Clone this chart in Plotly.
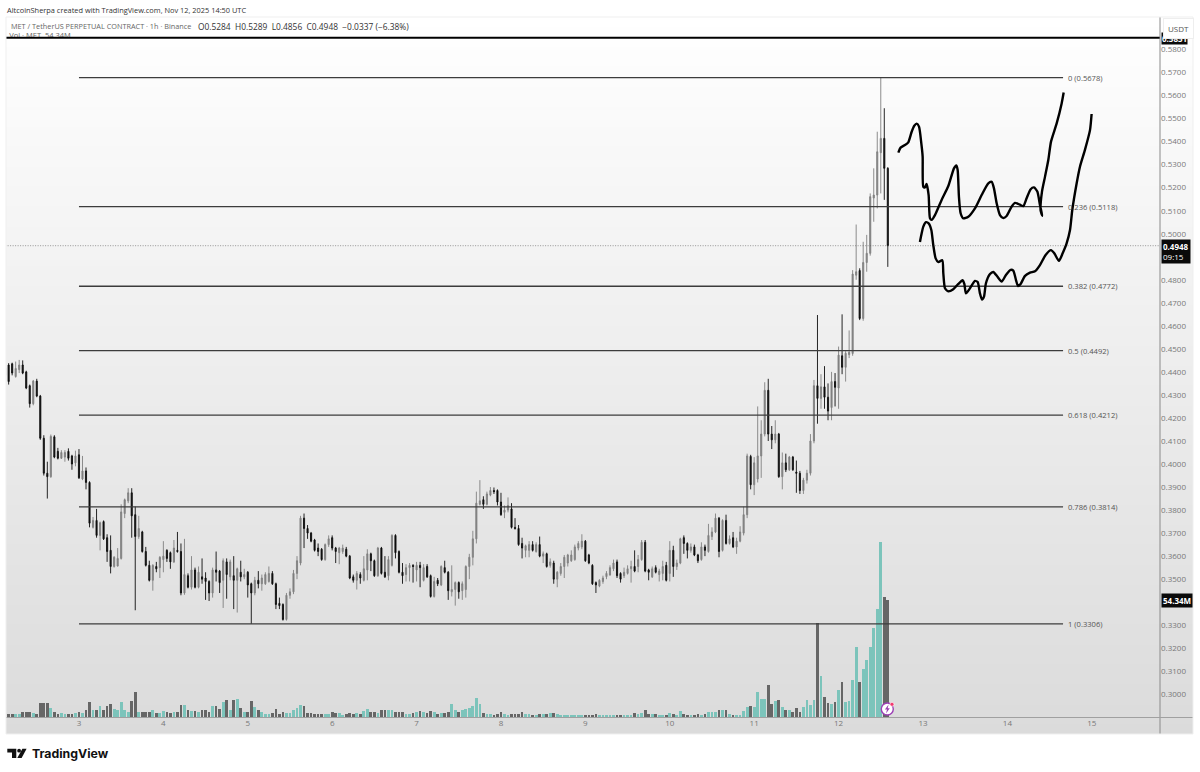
"""MET/USDT 1h chart with fib levels and two hand-drawn paths, TradingView style."""
import numpy as np
import pandas as pd
import plotly.graph_objects as go

W, H = 1200, 772

# ----- candles, 1h, first one at Nov 2 03:00 -----
opens = [
    .4385,.4430,.4435,.4380,.4410,.4430,.4400,.4340,.4262,.4360,
    .4295,.4112,.3960,.3945,.4118,.4055,.4025,.4030,.4055,.4035,
    .4005,.4040,.3935,.3970,.3920,.3725,.3755,.3690,.3750,.3680,
    .3625,.3555,.3557,.3590,.3785,.3840,.3875,.3780,.3685,.3705,
    .3620,.3560,.3495,.3555,.3550,.3585,.3625,.3615,.3575,.3625,
    .3620,.3440,.3515,.3465,.3540,.3465,.3510,.3505,.3490,.3440,
    .3540,.3535,.3495,.3575,.3510,.3515,.3495,.3530,.3510,.3530,
    .3480,.3440,.3495,.3480,.3480,.3490,.3525,.3480,.3395,.3390,
    .3325,.3430,.3445,.3525,.3570,.3765,.3720,.3700,.3670,.3635,
    .3630,.3585,.3650,.3680,.3635,.3615,.3620,.3630,.3600,.3510,
    .3495,.3520,.3495,.3540,.3610,.3580,.3515,.3635,.3530,.3515,
    .3560,.3690,.3620,.3530,.3520,.3550,.3560,.3540,.3560,.3495,
    .3555,.3515,.3425,.3495,.3475,.3550,.3530,.3445,.3455,.3485,
    .3450,.3455,.3555,.3595,.3675,.3825,.3845,.3825,.3865,.3885,
    .3885,.3835,.3790,.3800,.3805,.3725,.3720,.3655,.3625,.3625,
    .3650,.3620,.3650,.3600,.3610,.3560,.3570,.3500,.3525,.3555,
    .3570,.3580,.3585,.3635,.3640,.3665,.3605,.3560,.3485,.3470,
    .3490,.3511,.3518,.3545,.3575,.3525,.3515,.3525,.3545,.3555,
    .3555,.3585,.3660,.3540,.3510,.3550,.3520,.3525,.3560,.3525,
    .3625,.3555,.3570,.3680,.3655,.3625,.3640,.3605,.3585,.3640,
    .3620,.3685,.3705,.3765,.3625,.3755,.3655,.3680,.3640,.3665,
    .3700,.3780,.4033,.3910,.3935,.4035,.4130,.4320,.4130,.4105,
    .4130,.3945,.4005,.3975,.4030,.3965,.3960,.3885,.3930,.3960,
    .4100,.4340,.4285,.4335,.4290,.4245,.4358,.4330,.4470,.4420,
    .4475,.4480,.4820,.4840,.4632,.4875,.4915,.5155,.5168,.5352,.5414,.5284,
]
highs = [
    .4425,.4438,.4440,.4445,.4452,.4450,.4405,.4345,.4365,.4370,
    .4300,.4125,.4010,.4128,.4125,.4070,.4060,.4060,.4068,.4040,
    .4058,.4065,.4035,.3985,.3925,.3770,.3805,.3750,.3755,.3695,
    .3690,.3600,.3635,.3825,.3850,.3895,.3895,.3815,.3775,.3710,
    .3640,.3580,.3565,.3575,.3600,.3665,.3630,.3620,.3670,.3705,
    .3655,.3675,.3525,.3600,.3550,.3555,.3590,.3530,.3495,.3550,
    .3620,.3540,.3590,.3590,.3585,.3600,.3550,.3580,.3545,.3535,
    .3485,.3510,.3535,.3520,.3530,.3555,.3535,.3485,.3420,.3395,
    .3440,.3460,.3540,.3600,.3775,.3785,.3735,.3705,.3675,.3655,
    .3635,.3655,.3690,.3690,.3640,.3640,.3650,.3640,.3605,.3520,
    .3535,.3530,.3600,.3630,.3615,.3585,.3640,.3640,.3600,.3600,
    .3695,.3695,.3625,.3570,.3565,.3570,.3565,.3575,.3575,.3565,
    .3565,.3520,.3510,.3505,.3560,.3580,.3535,.3560,.3490,.3490,
    .3490,.3560,.3610,.3710,.3880,.3930,.3860,.3880,.3900,.3898,
    .3890,.3875,.3820,.3855,.3830,.3765,.3735,.3680,.3650,.3665,
    .3665,.3660,.3685,.3620,.3615,.3590,.3580,.3535,.3570,.3605,
    .3610,.3625,.3650,.3665,.3695,.3670,.3610,.3565,.3490,.3500,
    .3515,.3535,.3560,.3585,.3585,.3530,.3550,.3560,.3580,.3625,
    .3605,.3670,.3670,.3545,.3555,.3560,.3545,.3580,.3575,.3665,
    .3645,.3585,.3680,.3690,.3660,.3655,.3650,.3610,.3660,.3650,
    .3740,.3725,.3785,.3770,.3760,.3780,.3690,.3705,.3680,.3730,
    .3815,.4045,.4040,.4030,.4250,.4190,.4355,.4370,.4165,.4190,
    .4135,.4050,.4045,.4035,.4035,.4015,.3970,.3940,.3975,.4130,
    .4365,.4647,.4390,.4425,.4350,.4400,.4395,.4510,.4650,.4490,
    .4580,.4842,.5040,.4850,.4965,.4995,.5175,.5284,.5443,.5678,.5545,.5289,
]
lows = [
    .4358,.4345,.4385,.4375,.4395,.4390,.4325,.4245,.4255,.4290,
    .4105,.3950,.3850,.3940,.4025,.4020,.4022,.4010,.4015,.3975,
    .3990,.3935,.3930,.3890,.3725,.3720,.3680,.3625,.3670,.3575,
    .3525,.3550,.3555,.3585,.3765,.3830,.3680,.3365,.3675,.3615,
    .3555,.3490,.3450,.3530,.3505,.3530,.3575,.3545,.3570,.3615,
    .3430,.3432,.3460,.3455,.3460,.3460,.3480,.3410,.3405,.3420,
    .3490,.3440,.3375,.3415,.3495,.3370,.3355,.3490,.3500,.3420,
    .3306,.3430,.3460,.3450,.3475,.3485,.3475,.3370,.3370,.3320,
    .3320,.3415,.3435,.3500,.3560,.3635,.3675,.3660,.3620,.3600,
    .3580,.3580,.3640,.3625,.3570,.3565,.3610,.3595,.3500,.3485,
    .3455,.3480,.3490,.3495,.3535,.3510,.3510,.3520,.3505,.3495,
    .3555,.3590,.3525,.3480,.3490,.3490,.3485,.3490,.3465,.3490,
    .3505,.3420,.3420,.3470,.3470,.3525,.3410,.3425,.3385,.3415,
    .3410,.3420,.3500,.3560,.3655,.3820,.3805,.3820,.3860,.3870,
    .3820,.3775,.3765,.3790,.3720,.3715,.3645,.3590,.3595,.3595,
    .3620,.3615,.3595,.3570,.3550,.3550,.3480,.3465,.3515,.3505,
    .3555,.3575,.3580,.3625,.3630,.3575,.3565,.3475,.3440,.3465,
    .3480,.3500,.3515,.3535,.3505,.3485,.3505,.3520,.3485,.3530,
    .3530,.3580,.3530,.3495,.3505,.3525,.3490,.3495,.3490,.3490,
    .3510,.3540,.3565,.3610,.3590,.3615,.3600,.3570,.3580,.3600,
    .3615,.3670,.3700,.3595,.3620,.3650,.3650,.3635,.3610,.3660,
    .3690,.3765,.3890,.3865,.3920,.3940,.4120,.4100,.4065,.4090,
    .3940,.3890,.3965,.3970,.3970,.3875,.3870,.3870,.3915,.3950,
    .4090,.4175,.4240,.4240,.4190,.4190,.4250,.4240,.4390,.4358,
    .4460,.4470,.4800,.4625,.4622,.4835,.4905,.5052,.5110,.5175,.5147,.4856,
]
closes = [
    .4418,.4358,.4395,.4415,.4430,.4395,.4330,.4262,.4360,.4295,
    .4112,.3960,.3945,.4120,.4030,.4025,.4050,.4050,.4025,.4000,
    .4035,.3940,.3970,.3920,.3743,.3755,.3690,.3745,.3675,.3620,
    .3555,.3595,.3590,.3792,.3845,.3875,.3775,.3685,.3720,.3620,
    .3560,.3495,.3560,.3545,.3595,.3600,.3590,.3575,.3635,.3620,
    .3440,.3520,.3465,.3540,.3465,.3530,.3500,.3490,.3440,.3540,
    .3530,.3485,.3580,.3520,.3575,.3495,.3545,.3510,.3520,.3475,
    .3440,.3495,.3480,.3505,.3520,.3525,.3480,.3390,.3385,.3325,
    .3430,.3445,.3525,.3580,.3765,.3720,.3700,.3665,.3625,.3620,
    .3585,.3650,.3675,.3635,.3620,.3635,.3635,.3600,.3505,.3495,
    .3525,.3505,.3545,.3610,.3580,.3515,.3635,.3525,.3510,.3585,
    .3690,.3615,.3530,.3515,.3550,.3560,.3555,.3560,.3550,.3550,
    .3510,.3425,.3490,.3480,.3555,.3530,.3450,.3455,.3485,.3445,
    .3480,.3555,.3595,.3675,.3830,.3840,.3825,.3870,.3885,.3880,
    .3835,.3780,.3800,.3820,.3725,.3720,.3650,.3635,.3645,.3650,
    .3625,.3650,.3600,.3610,.3555,.3575,.3500,.3530,.3555,.3595,
    .3605,.3605,.3640,.3655,.3665,.3580,.3570,.3480,.3475,.3495,
    .3505,.3525,.3550,.3570,.3515,.3500,.3530,.3545,.3555,.3535,
    .3585,.3660,.3535,.3530,.3545,.3530,.3535,.3555,.3495,.3625,
    .3555,.3570,.3675,.3655,.3625,.3640,.3605,.3580,.3640,.3625,
    .3690,.3705,.3765,.3620,.3755,.3655,.3675,.3640,.3665,.3705,
    .3780,.4035,.3910,.4005,.4035,.4130,.4320,.4130,.4105,.4130,
    .3945,.4005,.3975,.4030,.3975,.3960,.3885,.3930,.3960,.4100,
    .4340,.4285,.4335,.4290,.4230,.4358,.4333,.4473,.4420,.4481,
    .4485,.4825,.4835,.4632,.4875,.4915,.5161,.5168,.5356,.5414,.5284,.4948,
]
# volume in millions
volumes = [
    1.2,1.2,1.5,1.2,1.5,2.2,2.2,2.5,1.9,1.2,
    6.7,6.7,6.7,4.3,2.2,1.5,1.9,1.2,1.2,1.2,
    1.9,2.5,1.9,3.1,7.0,3.1,3.4,5.0,3.4,5.0,
    5.9,3.7,3.1,7.1,3.1,2.5,7.4,11.8,2.5,2.2,
    2.2,2.2,3.4,1.9,1.9,2.8,2.2,1.9,2.5,2.5,
    5.6,5.6,3.1,2.8,2.8,2.5,3.1,3.4,2.5,5.3,
    5.0,3.7,7.1,8.0,3.1,8.0,8.4,4.0,2.2,2.5,
    7.4,4.6,3.1,2.2,1.5,1.5,1.9,3.7,1.5,2.2,
    1.9,1.9,3.1,4.3,5.6,5.0,1.9,1.9,1.5,1.5,
    1.5,1.2,1.5,2.2,1.9,1.9,0.9,1.2,1.9,1.2,
    1.9,1.2,2.8,3.7,2.5,2.2,1.9,3.4,3.1,3.1,
    3.1,2.5,2.5,2.2,1.2,1.2,1.9,2.2,2.8,2.2,
    1.9,2.8,2.5,1.2,1.9,1.9,2.5,6.2,3.4,2.2,
    3.1,3.7,4.3,5.0,8.7,6.2,1.9,1.5,1.2,0.9,
    1.2,2.5,1.5,0.8,1.2,1.2,1.5,2.5,1.2,1.5,
    0.8,0.8,1.5,1.5,1.5,1.9,1.9,1.2,0.9,0.9,
    0.8,0.8,0.8,0.8,0.8,1.1,1.1,1.1,1.2,0.5,
    0.5,0.5,0.5,0.5,0.6,0.8,0.8,0.8,0.8,1.9,
    1.2,1.9,3.1,1.2,1.5,1.2,0.9,0.6,0.9,1.9,
    1.2,0.9,2.8,1.5,1.1,0.9,0.9,1.2,0.9,1.2,
    2.5,2.2,2.2,3.4,3.1,3.1,1.2,0.9,0.8,0.9,
    2.8,4.6,5.3,4.6,11.4,8.5,8.5,14.9,5.9,7.4,
    7.7,4.6,3.1,3.1,2.5,4.3,2.5,4.6,7.7,5.6,
    8.0,43.8,19.2,9.3,6.5,6.2,7.1,12.4,16.4,7.1,
    7.4,17.0,32.5,16.4,22.4,26.6,32.5,41.5,50.1,81.2,55.7,54.34,
]

# fib retracement
fib_levels = ["0", "0.236", "0.382", "0.5", "0.618", "0.786", "1"]
fib_prices = [0.5678, 0.5118, 0.4772, 0.4492, 0.4212, 0.3814, 0.3306]
fib_start = "2025-11-03 00:00"
fib_end = "2025-11-14 15:50"
fib_label_at = "2025-11-14 16:35"

# the two brush strokes: day of November, price
stroke1_day = [
    12.708,12.735,12.787,12.826,12.866,12.897,12.925,12.953,12.980,12.996,
    13.004,13.024,13.043,13.067,13.083,13.103,13.142,13.221,13.300,13.367,
    13.395,13.411,13.426,13.446,13.478,13.537,13.616,13.695,13.774,13.814,
    13.841,13.873,13.912,13.952,13.991,14.051,14.090,14.149,14.189,14.228,
    14.276,14.315,14.355,14.386,14.414,14.394,14.410,14.446,14.485,14.517,
    14.584,14.643,14.667,
]
stroke1_price = [
    .5352,.5374,.5385,.5397,.5443,.5469,.5478,.5465,.5393,.5335,
    .5204,.5201,.5216,.5168,.5067,.5060,.5081,.5147,.5207,.5284,
    .5297,.5277,.5161,.5089,.5067,.5074,.5110,.5168,.5219,.5225,
    .5197,.5132,.5081,.5068,.5077,.5118,.5134,.5126,.5120,.5154,
    .5193,.5201,.5183,.5125,.5078,.5100,.5183,.5248,.5320,.5400,
    .5479,.5566,.5613,
]
stroke2_day = [
    12.964,12.980,13.004,13.036,13.067,13.099,13.122,13.150,13.182,13.229,
    13.241,13.261,13.300,13.359,13.419,13.470,13.490,13.509,13.557,13.616,
    13.648,13.675,13.699,13.723,13.746,13.794,13.833,13.881,13.932,13.983,
    14.039,14.070,14.102,14.126,14.157,14.209,14.268,14.327,14.386,14.453,
    14.517,14.556,14.611,14.655,14.702,14.742,14.769,14.821,14.860,14.919,
    14.979,14.998,
]
stroke2_price = [
    .4964,.4994,.5031,.5050,.5045,.5016,.4951,.4893,.4877,.4885,
    .4828,.4763,.4750,.4759,.4782,.4798,.4782,.4741,.4763,.4795,
    .4790,.4741,.4714,.4727,.4785,.4825,.4834,.4814,.4792,.4821,
    .4843,.4840,.4799,.4773,.4782,.4817,.4831,.4837,.4864,.4908,
    .4929,.4915,.4882,.4915,.4958,.5016,.5103,.5219,.5291,.5364,
    .5450,.5520,
]

day_ticks = list(range(3, 16))
# 0.34 and 0.49 sit behind the last-value boxes
price_ticks = [.30, .31, .32, .33, .35, .36, .37, .38, .39, .40, .41, .42, .43, .44,
               .45, .46, .47, .48, .50, .51, .52, .53, .54, .55, .56, .57, .58]
top_line_price = 0.5851
last_price = 0.4948

UP, DOWN = "#808080", "#0d0d0d"
VOL_UP, VOL_DOWN = "#7cc4bb", "#666666"
TICK = "#787878"
FONT = "Open Sans, Noto Sans, sans-serif"


def px(x):
    return x / W


def py(y):
    return 1 - y / H


def on_day(d):
    return pd.Timestamp("2025-11-01") + pd.to_timedelta(np.asarray(d) - 1, unit="D")


times = pd.date_range("2025-11-02 03:00", periods=len(opens), freq="h")
vol_colors = [VOL_UP if c >= o else VOL_DOWN for o, c in zip(opens, closes)]

fig = go.Figure()

fig.add_trace(go.Bar(x=times, y=volumes, marker=dict(color=vol_colors, line=dict(width=0)),
                     width=2.8e6, yaxis="y", hoverinfo="skip"))

fig.add_trace(go.Scatter(x=["2025-11-02 04:10"], y=[0.5857], yaxis="y2", mode="text",
                         text=["Vol · MET  54.34M"], textposition="middle right",
                         textfont=dict(family=FONT, size=7.5, color="#666666")))

fig.add_trace(go.Candlestick(
    x=times, open=opens, high=highs, low=lows, close=closes, yaxis="y2",
    increasing=dict(line=dict(color=UP, width=0.9), fillcolor=UP),
    decreasing=dict(line=dict(color=DOWN, width=0.9), fillcolor=DOWN),
    whiskerwidth=0,
))

for price in fib_prices:
    fig.add_trace(go.Scatter(x=[fib_start, fib_end], y=[price, price], yaxis="y2", mode="lines",
                             line=dict(color="#3c3c3c", width=1.3), hoverinfo="skip"))

fig.add_trace(go.Scatter(x=[times[0], "2025-11-15 19:24"], y=[last_price, last_price], yaxis="y2",
                         mode="lines", line=dict(color="#555555", width=0.6, dash="1px,1.5px")))
fig.add_trace(go.Scatter(x=[times[0], "2025-11-15 19:24"], y=[top_line_price, top_line_price],
                         yaxis="y2", mode="lines", line=dict(color="#000000", width=2)))

for d, p in [(stroke1_day, stroke1_price), (stroke2_day, stroke2_price)]:
    fig.add_trace(go.Scatter(x=on_day(d), y=p, yaxis="y2", mode="lines",
                             line=dict(color="#000000", width=2.4, shape="spline", smoothing=0.6)))

# ----- panel background, white at the top to light grey at the bottom -----
# each band runs to the panel bottom and the next paints over it, so no seams show
shapes = []
steps = 72
for i in range(steps):
    y0 = 17 + (734 - 17) * i / steps
    g = int(round(255 - (255 - 219) * (i + 0.5) / steps))
    shapes.append(dict(type="rect", xref="paper", yref="paper", layer="below",
                       x0=px(6), x1=px(1193), y0=py(y0), y1=py(734),
                       fillcolor=f"rgb({g},{g},{g})", line=dict(width=0)))

shapes.append(dict(type="line", xref="paper", yref="paper", x0=px(1160), x1=px(1160), y0=py(17), y1=py(734),
                   line=dict(color="#8a8a8a", width=1)))
shapes.append(dict(type="line", xref="paper", yref="paper", x0=px(6), x1=px(1193), y0=py(717.5), y1=py(717.5),
                   line=dict(color="#a0a0a0", width=1)))
shapes.append(dict(type="rect", xref="paper", yref="paper", x0=px(6), x1=px(1193), y0=py(734), y1=py(17),
                   line=dict(color="#efefef", width=1)))

# exchange icon on the last bar
shapes.append(dict(type="circle", xref="paper", yref="paper", x0=px(881.3), x1=px(893.3), y0=py(715), y1=py(703),
                   fillcolor="white", line=dict(color="#9c3fb5", width=1.4)))
shapes.append(dict(type="path", xref="paper", yref="paper", fillcolor="#9c3fb5", line=dict(width=0),
                   path=f"M {px(888.6)} {py(704.6)} L {px(884.9)} {py(709.6)} L {px(887)} {py(709.6)} "
                        f"L {px(886)} {py(713.4)} L {px(889.8)} {py(708.2)} L {px(887.7)} {py(708.2)} Z"))
shapes.append(dict(type="circle", xref="paper", yref="paper", x0=px(890), x1=px(894), y0=py(706.3), y1=py(702.3),
                   fillcolor="#f23a6e", line=dict(color="white", width=0.6)))

# TradingView mark
shapes.append(dict(type="path", xref="paper", yref="paper", fillcolor="#111111", line=dict(width=0),
                   path=f"M {px(7.3)} {py(748.7)} L {px(16.3)} {py(748.7)} L {px(16.3)} {py(758)} "
                        f"L {px(12)} {py(758)} L {px(12)} {py(752.6)} L {px(7.3)} {py(752.6)} Z"))
shapes.append(dict(type="circle", xref="paper", yref="paper", fillcolor="#111111", line=dict(width=0),
                   x0=px(17.2), x1=px(21), y0=py(752.6), y1=py(748.8)))
shapes.append(dict(type="path", xref="paper", yref="paper", fillcolor="#111111", line=dict(width=0),
                   path=f"M {px(22.4)} {py(748.7)} L {px(26.6)} {py(748.7)} L {px(21.6)} {py(758)} "
                        f"L {px(17.3)} {py(758)} Z"))

annotations = []


def note(x, y, text, size=9, color="#555555", anchor="left", **kw):
    annotations.append(dict(x=px(x), y=py(y), xref="paper", yref="paper", text=text, showarrow=False,
                            xanchor=anchor, yanchor="middle", align="left",
                            font=dict(family=kw.pop("family", FONT), size=size, color=color), **kw))


note(6, 9.5, "AltcoinSherpa created with TradingView.com, Nov 12, 2025 14:50 UTC", size=7.4, color="#333333",
     borderpad=0)
note(10, 26, "MET / TetherUS PERPETUAL CONTRACT · 1h · Binance", size=7.3, color="#666666", borderpad=0)
note(197, 26, "O0.5284&nbsp;&nbsp;H0.5289&nbsp;&nbsp;L0.4856&nbsp;&nbsp;C0.4948&nbsp;&nbsp;−0.0337 (−6.38%)",
     size=8.4, color="#333333", borderpad=0)
note(1160.5, 38.5, "<b>0.5851</b>", size=8, color="white", bgcolor="#0a0a0a", borderpad=0)
note(1161, 251, "<b>0.4948</b><br>09:15", size=8, color="white", bgcolor="#0a0a0a", borderpad=1)
note(1161, 600.5, "<b>54.34M</b>", size=8, color="white", bgcolor="#0a0a0a", borderpad=1)
note(1163, 28, "USDT", size=8, color="#555555", bgcolor="white", bordercolor="#eeeeee", borderpad=4)
note(29.5, 753.5, "<b>TradingView</b>", size=12.3, color="#111111", family="Inter, Liberation Sans, sans-serif")

for name, price in zip(fib_levels, fib_prices):
    annotations.append(dict(x=fib_label_at, y=price, xref="x", yref="y2", text=f"{name} ({price:.4f})",
                            showarrow=False, xanchor="left", yanchor="middle",
                            font=dict(family=FONT, size=7.6, color="#555555")))

# pane runs from y=17 to y=717; 0.58 sits at y=49.5 and 0.30 at y=694.3
px_per_price = (694.3 - 49.5) / 0.28
y_top = 0.58 + (49.5 - 17) / px_per_price
y_bottom = 0.30 - (717 - 694.3) / px_per_price

fig.update_layout(
    width=W, height=H,
    margin=dict(l=0, r=0, t=0, b=0),
    paper_bgcolor="white", plot_bgcolor="rgba(0,0,0,0)",
    showlegend=False, hovermode=False, bargap=0, boxgap=0.55,
    shapes=shapes, annotations=annotations,
    xaxis=dict(
        type="date", domain=[px(6), px(1160)], range=["2025-11-02 03:15", "2025-11-15 19:24"],
        rangeslider=dict(visible=False), showgrid=False, zeroline=False, showline=False,
        tickvals=[f"2025-11-{d:02d}" for d in day_ticks], ticktext=[str(d) for d in day_ticks],
        ticks="", tickfont=dict(family=FONT, size=8, color=TICK),
    ),
    yaxis=dict(domain=[py(717), py(17)], range=[0, 325], visible=False),
    yaxis2=dict(
        overlaying="y", side="right", anchor="x", range=[y_bottom, y_top],
        tickvals=price_ticks, tickformat=".4f", ticks="", showgrid=False, zeroline=False,
        showline=False, tickfont=dict(family=FONT, size=8, color=TICK),
    ),
)

# browsers put an 8px margin on the body, which would push the whole chart off
fig.write_html("out.html", config=dict(displayModeBar=False), post_script="document.body.style.margin='0';")
